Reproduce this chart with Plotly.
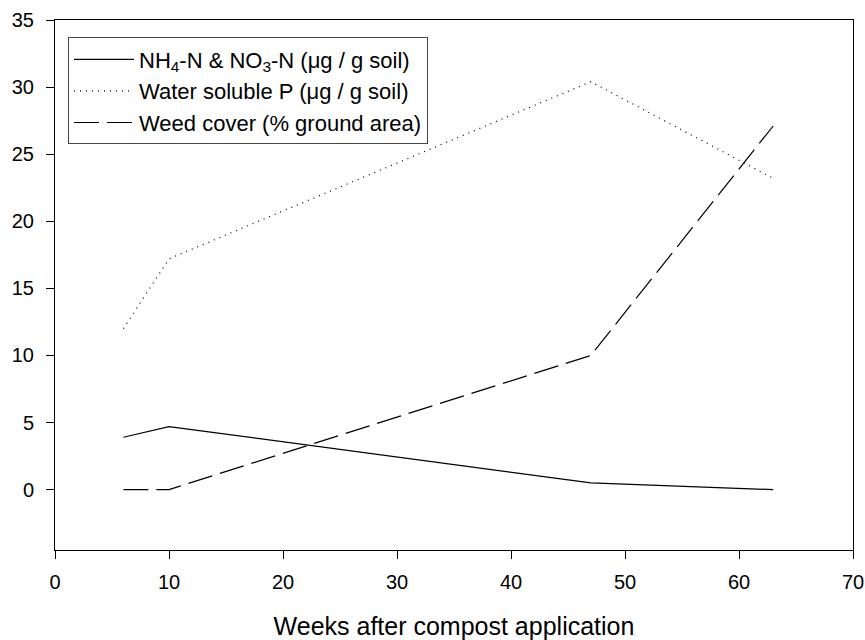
import plotly.graph_objects as go

weeks = [6, 10, 47, 63]
nitrogen = [3.9, 4.7, 0.5, 0.0]
phosphorus = [12.0, 17.2, 30.4, 23.2]
weed_cover = [0.0, 0.0, 10.0, 27.1]

names = [
    "NH<sub>4</sub>-N & NO<sub>3</sub>-N (μg / g soil)",
    "Water soluble P (μg / g soil)",
    "Weed cover (% ground area)",
]
x_ticks = [0, 10, 20, 30, 40, 50, 60, 70]
y_ticks = [0, 5, 10, 15, 20, 25, 30, 35]

fig = go.Figure()
fig.add_trace(go.Scatter(x=weeks, y=nitrogen, mode="lines", name=names[0],
                         line=dict(color="black", width=1.2, dash="solid")))
fig.add_trace(go.Scatter(x=weeks, y=phosphorus, mode="lines", name=names[1],
                         line=dict(color="black", width=1.2, dash="1px,5px")))
fig.add_trace(go.Scatter(x=weeks, y=weed_cover, mode="lines", name=names[2],
                         line=dict(color="black", width=1.2, dash="25px,8px")))

axis_common = dict(
    showline=True, linecolor="black", linewidth=1, mirror=True,
    ticks="outside", ticklen=8, tickcolor="black", tickwidth=1,
    showgrid=False, zeroline=False, automargin=False,
    tickfont=dict(family="Arial, Liberation Sans, sans-serif", size=20, color="black"),
)

fig.update_layout(
    width=865, height=640,
    margin=dict(l=55, r=12, t=19.5, b=90),
    plot_bgcolor="white", paper_bgcolor="white",
    font=dict(family="Arial, Liberation Sans, sans-serif", color="black"),
    xaxis=dict(range=[0, 70], tickvals=x_ticks, ticklabelstandoff=6,
               title=dict(text="Weeks after compost application",
                          font=dict(size=25), standoff=29),
               **axis_common),
    yaxis=dict(range=[-4.5, 35], tickvals=y_ticks, ticklabelstandoff=8,
               **axis_common),
    legend=dict(x=0.0163, y=0.967, xanchor="left", yanchor="top",
                bordercolor="#444", borderwidth=1, bgcolor="white",
                font=dict(size=22, color="black"), itemwidth=60,
                tracegroupgap=0),
    showlegend=True,
)

fig.write_html(
    "out.html",
    config={"displayModeBar": False},
    post_script="document.body.style.margin='0';document.body.style.overflow='hidden';",
)
